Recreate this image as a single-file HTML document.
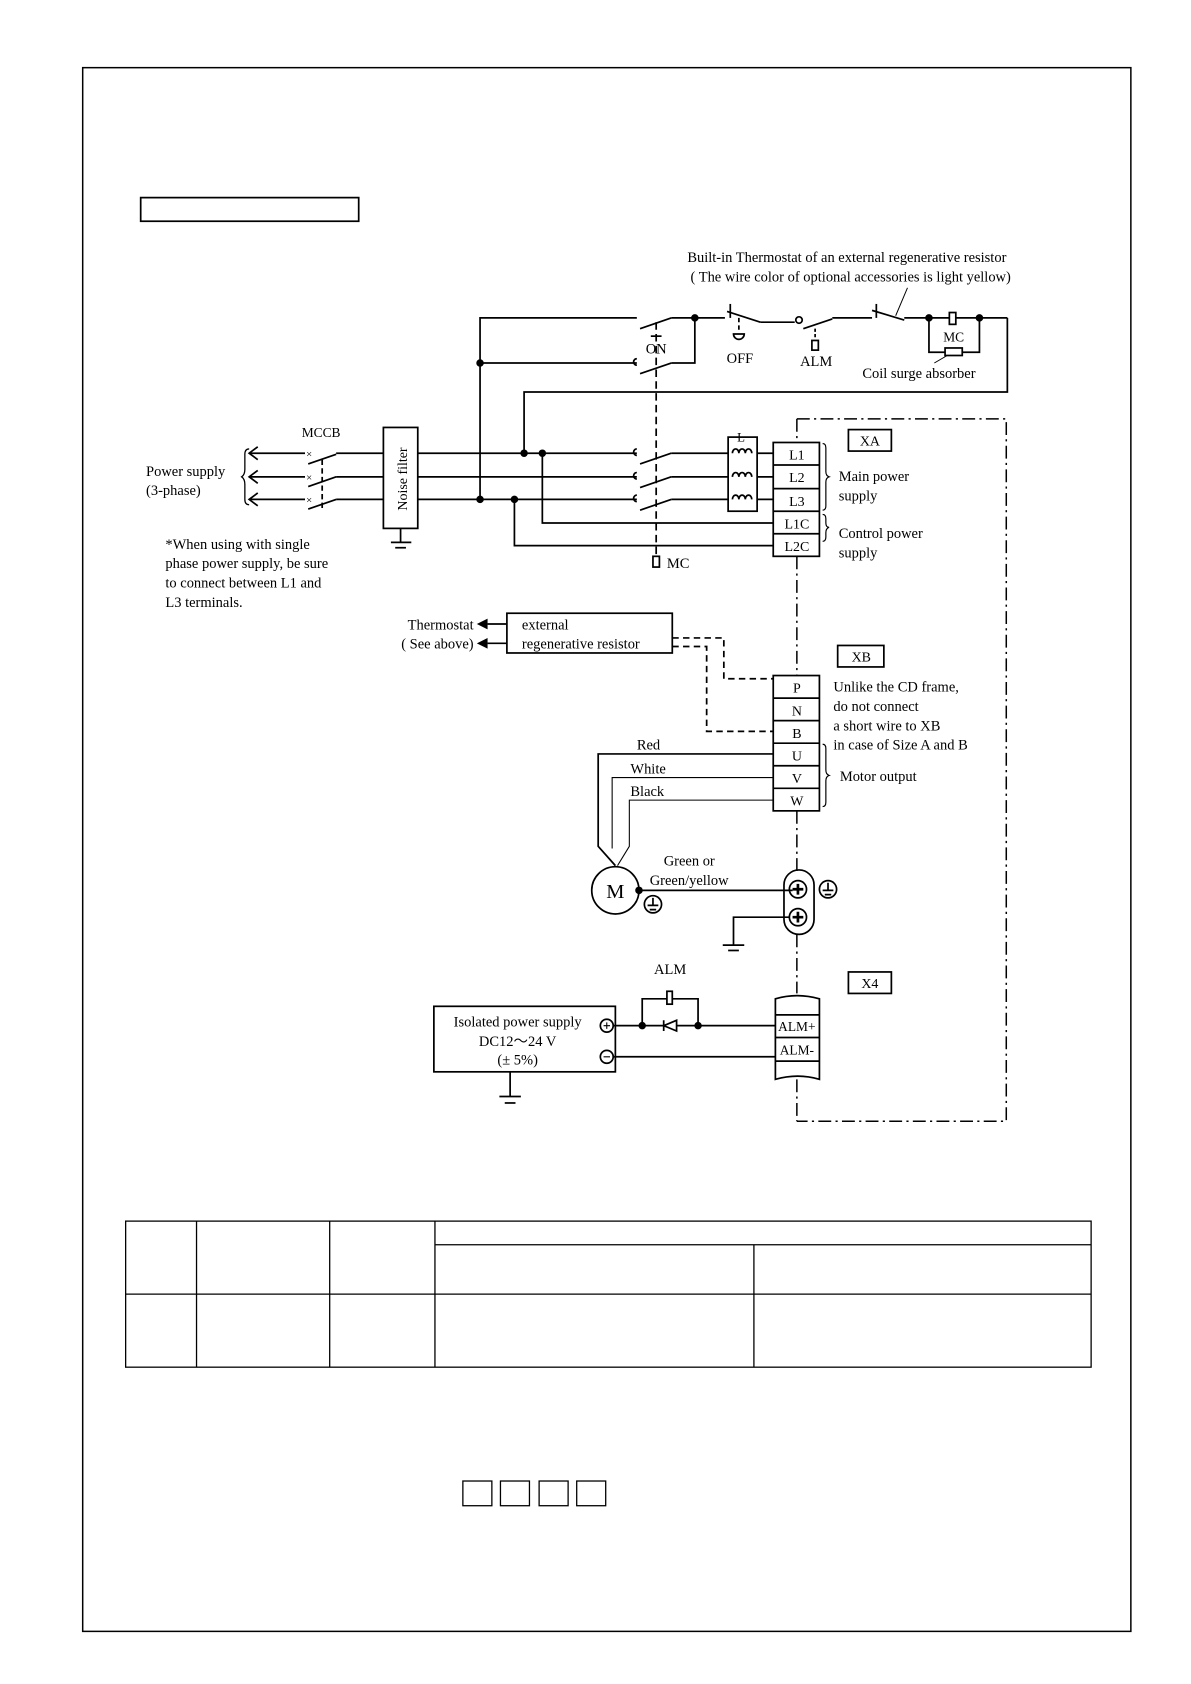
<!DOCTYPE html>
<html><head><meta charset="utf-8"><style>
html,body{margin:0;padding:0;background:#fff}
svg{display:block}
text{font-family:"Liberation Serif",serif;fill:#000}
</style></head><body>
<svg width="1191" height="1684" viewBox="0 0 1109 1568" preserveAspectRatio="none" xmlns="http://www.w3.org/2000/svg">
<g fill="none" stroke="#000" stroke-width="1.6">
<rect x="77" y="63" width="976" height="1456" stroke-width="1.4"/>
<rect x="131" y="184" width="203" height="22"/>
<polyline points="447,465 447,296 593,296"/>
<line x1="596" y1="306" x2="625" y2="296"/>
<polyline points="625,296 675,296"/>
<line x1="447" y1="338" x2="593" y2="338"/>
<line x1="596" y1="348" x2="625" y2="338"/>
<polyline points="625,338 647,338 647,296"/>
<path d="M593,334 a3,3 0 0 0 0,6"/>
<line x1="606" y1="313" x2="616" y2="313"/>
<line x1="680" y1="283" x2="680" y2="296"/>
<line x1="677" y1="290" x2="708" y2="300"/>
<line x1="708" y1="300" x2="740" y2="300"/>
<line x1="688" y1="296" x2="688" y2="309" stroke-dasharray="4,3"/>
<path d="M683,311 h10 a5,5 0 0 1 -10,0z"/>
<circle cx="744" cy="298" r="3"/>
<line x1="748" y1="306" x2="775" y2="297"/>
<line x1="775" y1="296" x2="812" y2="296"/>
<line x1="759" y1="306" x2="759" y2="314" stroke-dasharray="3,2"/>
<rect x="756" y="317" width="6" height="9"/>
<line x1="816" y1="283" x2="816" y2="296"/>
<line x1="812" y1="289" x2="842" y2="298"/>
<line x1="842" y1="296" x2="938" y2="296"/>
<line x1="834" y1="294" x2="845" y2="268" stroke-width="0.9"/>
<polyline points="865,296 865,328 912,328 912,296"/>
<rect x="884" y="291" width="6" height="11" fill="#fff"/>
<rect x="880" y="324" width="16" height="7" fill="#fff"/>
<line x1="870" y1="338" x2="882" y2="331" stroke-width="0.9"/>
<polyline points="938,296 938,365 488,365 488,422"/>
<line x1="611" y1="300" x2="611" y2="516" stroke-dasharray="7,4"/>
<rect x="608" y="518" width="6" height="10"/>
<line x1="232" y1="422" x2="284" y2="422"/>
<line x1="232" y1="444" x2="284" y2="444"/>
<line x1="232" y1="465" x2="284" y2="465"/>
<polyline points="240,416 232,422 240,428"/>
<polyline points="240,438 232,444 240,450"/>
<polyline points="240,459 232,465 240,471"/>
<path d="M232,418 q-4,0 -4,5 v14 q0,5 -3,7 q3,2 3,7 v14 q0,5 4,5" stroke-width="1.2"/>
<line x1="287" y1="432" x2="313" y2="423"/>
<line x1="287" y1="453" x2="313" y2="444"/>
<line x1="287" y1="474" x2="313" y2="465"/>
<line x1="313" y1="422" x2="357" y2="422"/>
<line x1="313" y1="444" x2="357" y2="444"/>
<line x1="313" y1="465" x2="357" y2="465"/>
<line x1="300" y1="428" x2="300" y2="473" stroke-dasharray="5,3"/>
<rect x="357" y="398" width="32" height="94"/>
<line x1="373" y1="492" x2="373" y2="505"/>
<line x1="364" y1="505" x2="383" y2="505"/>
<line x1="368" y1="510" x2="378" y2="510"/>
<line x1="389" y1="422" x2="593" y2="422"/>
<line x1="389" y1="444" x2="593" y2="444"/>
<line x1="389" y1="465" x2="593" y2="465"/>
<line x1="596" y1="432" x2="625" y2="422"/>
<line x1="596" y1="454" x2="625" y2="444"/>
<line x1="596" y1="475" x2="625" y2="465"/>
<path d="M593,418 a3,3 0 0 0 0,6 M593,440 a3,3 0 0 0 0,6 M593,461 a3,3 0 0 0 0,6"/>
<line x1="625" y1="422" x2="720" y2="422"/>
<line x1="625" y1="444" x2="720" y2="444"/>
<line x1="625" y1="465" x2="720" y2="465"/>
<polyline points="505,422 505,487 720,487"/>
<polyline points="479,465 479,508 720,508"/>
<rect x="678" y="407" width="27" height="69" fill="#fff"/>
<path d="M682,422 a3,4 0 0 1 6,0 a3,4 0 0 1 6,0 a3,4 0 0 1 6,0 M682,444 a3,4 0 0 1 6,0 a3,4 0 0 1 6,0 a3,4 0 0 1 6,0 M682,465 a3,4 0 0 1 6,0 a3,4 0 0 1 6,0 a3,4 0 0 1 6,0"/>
<rect x="720" y="412" width="43" height="106" fill="#fff"/>
<line x1="720" y1="433" x2="763" y2="433"/><line x1="720" y1="455" x2="763" y2="455"/><line x1="720" y1="476" x2="763" y2="476"/><line x1="720" y1="497" x2="763" y2="497"/>
<path d="M766,413 q3,0 3,4 v22 q0,4 3,5 q-3,1 -3,5 v22 q0,4 -3,4" stroke-width="1.1"/>
<path d="M766,479 q3,0 3,4 v4 q0,4 3,4 q-3,1 -3,5 v4 q0,4 -3,4" stroke-width="1.1"/>
<path d="M742,390 H937 V1044 H742" stroke-dasharray="12,4,2,4" stroke-width="1.4"/>
<line x1="742" y1="390" x2="742" y2="412" stroke-dasharray="12,4,2,4" stroke-width="1.4"/>
<line x1="742" y1="518" x2="742" y2="629" stroke-dasharray="12,4,2,4" stroke-width="1.4"/>
<line x1="742" y1="755" x2="742" y2="812" stroke-dasharray="12,4,2,4" stroke-width="1.4"/>
<line x1="742" y1="870" x2="742" y2="925" stroke-dasharray="12,4,2,4" stroke-width="1.4"/>
<line x1="742" y1="1005" x2="742" y2="1044" stroke-dasharray="12,4,2,4" stroke-width="1.4"/>
<rect x="790" y="400" width="40" height="20"/>
<rect x="780" y="601" width="43" height="20"/>
<rect x="790" y="905" width="40" height="20"/>
<rect x="472" y="571" width="154" height="37"/>
<line x1="454" y1="581" x2="472" y2="581"/><line x1="454" y1="599" x2="472" y2="599"/>
<polyline points="626,594 674,594 674,632 720,632" stroke-dasharray="6,4"/>
<polyline points="626,602 658,602 658,681 720,681" stroke-dasharray="6,4"/>
<rect x="720" y="629" width="43" height="126" fill="#fff"/>
<line x1="720" y1="650" x2="763" y2="650"/><line x1="720" y1="671" x2="763" y2="671"/><line x1="720" y1="692" x2="763" y2="692"/><line x1="720" y1="713" x2="763" y2="713"/><line x1="720" y1="734" x2="763" y2="734"/>
<path d="M766,693 q3,0 3,4 v20 q0,4 3,5 q-3,1 -3,5 v20 q0,4 -3,4" stroke-width="1.1"/>
<polyline points="720,702 557,702 557,788 573,806" stroke-width="1.6"/>
<polyline points="720,724 570,724 570,790" stroke-width="1"/>
<polyline points="720,745 586,745 586,788 575,806" stroke-width="1"/>
<circle cx="573" cy="829" r="22"/>
<line x1="595" y1="829" x2="738" y2="829"/>
<rect x="730" y="810" width="28" height="60" rx="14"/>
<circle cx="743" cy="828" r="8"/><circle cx="743" cy="854" r="8"/>
<path d="M738,828 h10 M743,823 v10 M738,854 h10 M743,849 v10" stroke-width="2.5"/>
<polyline points="735,854 683,854 683,880"/>
<line x1="673" y1="880" x2="693" y2="880"/><line x1="678" y1="885" x2="688" y2="885"/>
<circle cx="608" cy="842" r="8"/><path d="M603,843 h10 M605,847 h6 M608,836 v7"/>
<circle cx="771" cy="828" r="8"/><path d="M766,829 h10 M768,833 h6 M771,822 v7"/>
<rect x="404" y="937" width="169" height="61"/>
<circle cx="565" cy="955" r="6"/><circle cx="565" cy="984" r="6"/>
<path d="M562,955 h6 M565,952 v6 M562,984 h6" stroke-width="1"/>
<line x1="571" y1="955" x2="722" y2="955"/>
<line x1="571" y1="984" x2="722" y2="984"/>
<polyline points="598,955 598,930 650,930 650,955"/>
<rect x="621" y="923" width="5" height="12" fill="#fff"/>
<path d="M618,950 v10 M618,955 l12,-5 v10 z" fill="#fff"/>
<line x1="475" y1="998" x2="475" y2="1021"/><line x1="465" y1="1021" x2="485" y2="1021"/><line x1="470" y1="1027" x2="480" y2="1027"/>
<path d="M722,930 q20,-6 41,0 V1005 q-20,-6 -41,0 Z" fill="#fff"/>
<line x1="722" y1="945" x2="763" y2="945"/><line x1="722" y1="966" x2="763" y2="966"/><line x1="722" y1="988" x2="763" y2="988"/>
<rect x="117" y="1137" width="899" height="136" stroke-width="1.2"/>
<g stroke-width="1.2">
<line x1="183" y1="1137" x2="183" y2="1273"/><line x1="307" y1="1137" x2="307" y2="1273"/><line x1="405" y1="1137" x2="405" y2="1273"/>
<line x1="702" y1="1159" x2="702" y2="1273"/><line x1="405" y1="1159" x2="1016" y2="1159"/><line x1="117" y1="1205" x2="1016" y2="1205"/>
</g>
<g stroke-width="1.2"><rect x="431" y="1379" width="27" height="23"/><rect x="466" y="1379" width="27" height="23"/><rect x="502" y="1379" width="27" height="23"/><rect x="537" y="1379" width="27" height="23"/></g>
</g>
<g fill="#000">
<circle cx="447" cy="338" r="3.5"/><circle cx="647" cy="296" r="3.5"/><circle cx="865" cy="296" r="3.5"/><circle cx="912" cy="296" r="3.5"/>
<circle cx="488" cy="422" r="3.5"/><circle cx="505" cy="422" r="3.5"/><circle cx="447" cy="465" r="3.5"/><circle cx="479" cy="465" r="3.5"/>
<circle cx="595" cy="829" r="3.5"/><circle cx="598" cy="955" r="3.5"/><circle cx="650" cy="955" r="3.5"/>
<path d="M444,581 l10,-5 v10z M444,599 l10,-5 v10z"/>
<text x="285" y="426" font-size="10" font-family="Liberation Sans">×</text>
<text x="285" y="448" font-size="10" font-family="Liberation Sans">×</text>
<text x="285" y="469" font-size="10" font-family="Liberation Sans">×</text>
</g>
<g font-size="13.5">
<text x="640" y="244">Built-in Thermostat of an  external regenerative resistor</text>
<text x="643" y="262">( The wire color of optional accessories is light yellow)</text>
<text x="611" y="329" text-anchor="middle">ON</text>
<text x="689" y="338" text-anchor="middle">OFF</text>
<text x="760" y="341" text-anchor="middle">ALM</text>
<text x="888" y="318" text-anchor="middle" font-size="12.5">MC</text>
<text x="803" y="352">Coil surge absorber</text>
<text x="299" y="407" text-anchor="middle" font-size="12.5">MCCB</text>
<text x="136" y="443">Power supply</text>
<text x="136" y="461">(3-phase)</text>
<text x="379" y="446" text-anchor="middle" font-size="13" transform="rotate(-90 379 446)">Noise filter</text>
<text x="154" y="511">*When using with single</text>
<text x="154" y="529">phase power supply, be sure</text>
<text x="154" y="547">to connect between L1 and</text>
<text x="154" y="565">L3 terminals.</text>
<text x="621" y="529">MC</text>
<text x="690" y="411" text-anchor="middle" font-size="12">L</text>
<g text-anchor="middle" font-size="13">
<text x="742" y="428">L1</text><text x="742" y="449">L2</text><text x="742" y="471">L3</text><text x="742" y="492">L1C</text><text x="742" y="513">L2C</text>
<text x="742" y="645">P</text><text x="742" y="666">N</text><text x="742" y="687">B</text><text x="742" y="708">U</text><text x="742" y="729">V</text><text x="742" y="750">W</text>
<text x="810" y="415">XA</text><text x="802" y="616">XB</text><text x="810" y="920">X4</text>
<text x="742" y="960" font-size="12.5">ALM+</text><text x="742" y="982" font-size="12.5">ALM-</text>
</g>
<text x="781" y="448">Main power</text><text x="781" y="466">supply</text>
<text x="781" y="501">Control power</text><text x="781" y="519">supply</text>
<text x="441" y="586" text-anchor="end">Thermostat</text>
<text x="441" y="604" text-anchor="end">( See above)</text>
<text x="486" y="586">external</text>
<text x="486" y="604">regenerative resistor</text>
<text x="776" y="644">Unlike the CD frame,</text>
<text x="776" y="662">do not connect</text>
<text x="776" y="680">a short wire to XB</text>
<text x="776" y="698">in case of Size A and B</text>
<text x="782" y="727">Motor output</text>
<text x="593" y="698">Red</text><text x="587" y="720">White</text><text x="587" y="741">Black</text>
<text x="573" y="836" text-anchor="middle" font-size="19" font-family="Liberation Sans">M</text>
<text x="618" y="806">Green or</text><text x="605" y="824">Green/yellow</text>
<text x="624" y="907" text-anchor="middle">ALM</text>
<text x="482" y="956" text-anchor="middle">Isolated power supply</text>
<text x="482" y="974" text-anchor="middle">DC12～24 V</text>
<text x="482" y="991" text-anchor="middle">(± 5%)</text>
</g>
</svg>
</body></html>
